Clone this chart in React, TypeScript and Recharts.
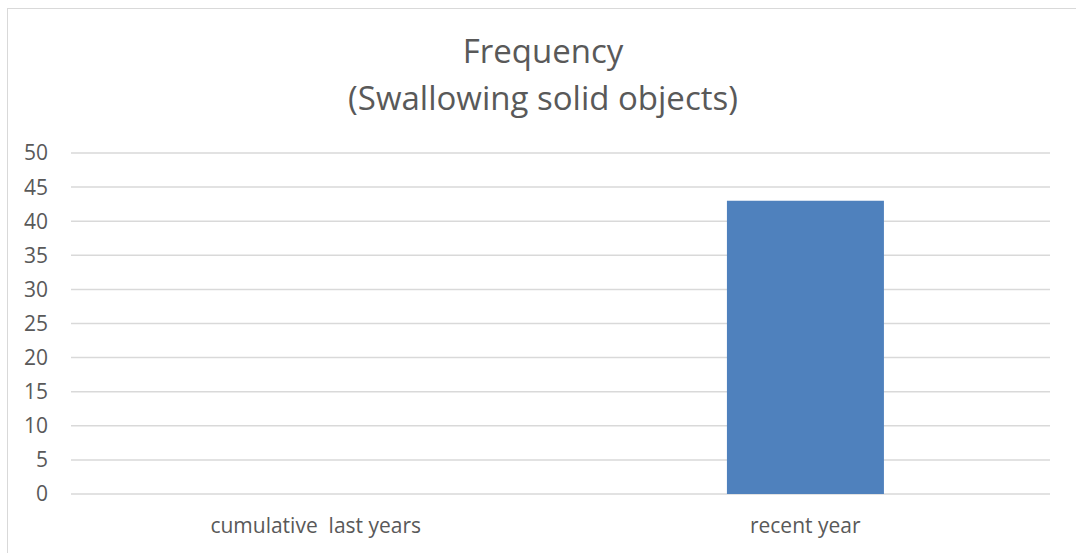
import React from 'react';
import { BarChart, Bar, XAxis, YAxis, CartesianGrid } from 'recharts';

const categories = ['cumulative  last years', 'recent year'];
const frequency = [0, 43];
const yTicks = [0, 5, 10, 15, 20, 25, 30, 35, 40, 45, 50];

const FONT = '"Open Sans", "Liberation Sans", sans-serif';
const TEXT = '#595959';

// Recharts' Text squashes repeated spaces, so draw the category labels ourselves
const CategoryTick = (props: any) => {
    const { x, y, payload } = props;
    return (
        <text x={x} y={y} dy="0.71em" textAnchor="middle" fill={TEXT} fontSize={21} fontFamily={FONT} xmlSpace="preserve" style={{ whiteSpace: 'pre' }}>
            {payload.value}
        </text>
    );
};

const App: React.FC = () => {
    const data = categories.map((name, i) => ({ name, value: frequency[i] }));

    return (
        <div style={{ position: 'absolute', left: 0, top: 0, width: 1076, height: 553, background: '#fff', overflow: 'hidden', fontFamily: FONT }}>
            {/* chart frame, only left and top edges visible */}
            <div style={{ position: 'absolute', left: 7, top: 8, width: 1100, height: 600, borderLeft: '1.5px solid #d9d9d9', borderTop: '1.5px solid #d9d9d9' }} />
            <div style={{ position: 'absolute', left: 0, top: 27, width: 1086, textAlign: 'center', color: TEXT, fontSize: 33, lineHeight: '47px' }}>
                <div>Frequency</div>
                <div>(Swallowing solid objects)</div>
            </div>
            <div style={{ position: 'absolute', left: 0, top: 0 }}>
                <BarChart width={1076} height={553} data={data} margin={{ top: 153, right: 26, bottom: 19, left: 0 }} barCategoryGap="34%">
                    <CartesianGrid vertical={false} stroke="#d9d9d9" strokeWidth={1.5} />
                    <XAxis
                        dataKey="name"
                        axisLine={false}
                        tickLine={false}
                        tickSize={0}
                        tickMargin={24}
                        height={40}
                        tick={<CategoryTick />}
                    />
                    <YAxis
                        domain={[0, 50]}
                        ticks={yTicks}
                        interval={0}
                        axisLine={false}
                        tickLine={false}
                        tickSize={0}
                        tickMargin={23}
                        width={71}
                        tick={{ fill: TEXT, fontSize: 21, fontFamily: FONT }}
                    />
                    <Bar dataKey="value" fill="#4f81bd" isAnimationActive={false} />
                </BarChart>
            </div>
        </div>
    );
};

export default App;
